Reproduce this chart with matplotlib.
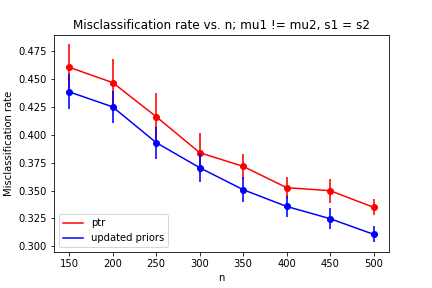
import matplotlib
matplotlib.use('Agg')
import matplotlib.pyplot as plt

n = [150, 200, 250, 300, 350, 400, 450, 500]
ptr = [0.4605, 0.4468, 0.4163, 0.3840, 0.3717, 0.3526, 0.3499, 0.3350]
ptr_err = [0.0205, 0.0212, 0.0212, 0.0180, 0.0112, 0.0100, 0.0108, 0.0072]
upd = [0.4385, 0.4250, 0.3930, 0.3705, 0.3508, 0.3358, 0.3248, 0.3108]
upd_err = [0.0157, 0.0147, 0.0143, 0.0130, 0.0110, 0.0095, 0.0093, 0.0070]

fig = plt.figure(figsize=(6, 4), dpi=72)
plt.subplots_adjust(bottom=0.125)
plt.plot(n, ptr, color='red', label='ptr')
plt.errorbar(n, ptr, yerr=ptr_err, fmt='none', ecolor='red', elinewidth=2, alpha=0.8)
plt.plot(n, ptr, 'o', color='red')
plt.plot(n, upd, color='blue', label='updated priors')
plt.errorbar(n, upd, yerr=upd_err, fmt='none', ecolor='blue', elinewidth=2, alpha=0.8)
plt.plot(n, upd, 'o', color='blue')
plt.xlabel('n')
plt.ylabel('Misclassification rate')
plt.title('Misclassification rate vs. n; mu1 != mu2, s1 = s2')
plt.legend(loc='lower left')
plt.savefig('out.png')
